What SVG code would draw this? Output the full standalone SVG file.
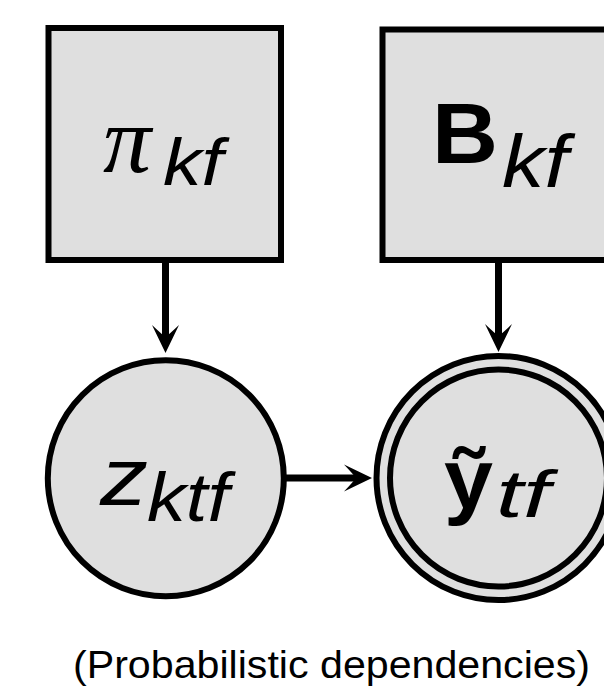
<svg xmlns="http://www.w3.org/2000/svg" width="604" height="688" viewBox="0 0 604 688">
  <defs>
    <style>
      .node { fill: #dfdfdf; stroke: #000; stroke-width: 6; }
      .edge { fill: none; stroke: #000; stroke-width: 7; }
      .sans { font-family: "Liberation Sans", Arial, sans-serif; fill: #000; }
      .serif { font-family: "Liberation Serif", "Times New Roman", serif; fill: #000; }
      .it { font-style: italic; }
      .bold { font-weight: bold; }
    </style>
    <marker id="head" viewBox="-29 -15 31 30" refX="-16" refY="0" markerWidth="31" markerHeight="30" markerUnits="userSpaceOnUse" orient="auto">
      <path d="M0,0 L-28,-13.5 Q-19,-4 -16,0 Q-19,4 -28,13.5 Z" fill="#000"/>
    </marker>
  </defs>

  <!-- prior weights -->
  <g id="pi">
    <rect class="node" x="48.5" y="28" width="232.5" height="232"/>
    <text class="serif it" x="103" y="172" font-size="96">π</text>
    <text class="sans it" x="163" y="185" font-size="66" textLength="60" lengthAdjust="spacingAndGlyphs">kf</text>
  </g>

  <!-- basis matrix -->
  <g id="B">
    <rect class="node" x="382.5" y="29.5" width="232.5" height="230.5"/>
    <text class="sans bold" x="432" y="163" font-size="86" textLength="66" lengthAdjust="spacingAndGlyphs">B</text>
    <text class="sans it" x="502" y="187" font-size="74" textLength="66" lengthAdjust="spacingAndGlyphs">kf</text>
  </g>

  <!-- latent assignment -->
  <g id="z">
    <circle class="node" cx="165.8" cy="478.3" r="118"/>
    <text class="sans it" x="100" y="505" font-size="82" textLength="48" lengthAdjust="spacingAndGlyphs">z</text>
    <text class="sans it" x="147" y="521" font-size="68" textLength="82" lengthAdjust="spacingAndGlyphs">ktf</text>
  </g>

  <!-- observation (double ring) -->
  <g id="y">
    <circle class="node" cx="498.5" cy="478" r="122"/>
    <circle class="node" cx="498.5" cy="478" r="108.5"/>
    <text class="sans bold" x="444" y="508" font-size="86" textLength="49" lengthAdjust="spacingAndGlyphs">ỹ</text>
    <text class="sans it" x="496" y="517" font-size="66" textLength="54" lengthAdjust="spacingAndGlyphs">tf</text>
  </g>

  <g id="connectors">
    <line class="edge" x1="165.5" y1="261" x2="165.5" y2="337" marker-end="url(#head)"/>
    <line class="edge" x1="498.5" y1="262" x2="498.5" y2="336" marker-end="url(#head)"/>
    <line class="edge" x1="286" y1="478" x2="356" y2="478" marker-end="url(#head)"/>
  </g>

  <text class="sans" x="331.5" y="678" font-size="39" text-anchor="middle" textLength="517" lengthAdjust="spacingAndGlyphs">(Probabilistic dependencies)</text>
</svg>
